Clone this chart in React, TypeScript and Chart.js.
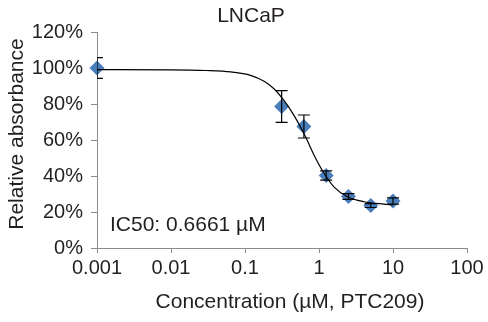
import React, { useEffect, useRef } from "react";
import { Chart, registerables } from "chart.js";

Chart.register(...registerables);

// Measured data (concentration in µM, relative absorbance in %)
const concentrations = [0.001, 0.3125, 0.625, 1.25, 2.5, 5, 10];
const meanAbsorbance = [100, 78.6, 67.5, 40.3, 28.6, 23.6, 26.1];
const errorAbsorbance = [5.8, 8.8, 6.4, 2.6, 1.6, 1.1, 1.7];

// Fitted dose-response curve
const curveConc = [0.001, 0.01, 0.03, 0.064, 0.119, 0.181, 0.246, 0.336, 0.459, 0.627, 0.855, 1.17, 1.59, 2.42, 4.06, 7.55, 10];
const curveAbs = [99.1, 99.0, 98.6, 97.8, 95.9, 92.6, 88.5, 82, 73.7, 63.6, 51.7, 41.5, 34, 28.5, 25.7, 24.4, 24.0];

const xTickValues = [0.001, 0.01, 0.1, 1, 10, 100];
const xTickLabels = ["0.001", "0.01", "0.1", "1", "10", "100"];

const chartTitle = "LNCaP";
const xAxisTitle = "Concentration (µM, PTC209)";
const yAxisTitle = "Relative absorbance";
const ic50Label = "IC50: 0.6661 µM";

const FONT = "'Liberation Sans', Arial, sans-serif";
const TEXT = "#231f20";
const AXIS = "#8c8c8c";

export default function App() {
  const ref = useRef<HTMLCanvasElement | null>(null);

  useEffect(() => {
    if (!ref.current) return;

    const errorBars = {
      id: "errorBars",
      afterDatasetsDraw(chart: any) {
        const { ctx, chartArea, scales } = chart;
        const xs = scales.x;
        const ys = scales.y;
        ctx.save();
        ctx.beginPath();
        ctx.rect(chartArea.left, 0, chart.width - chartArea.left, chart.height);
        ctx.clip();
        ctx.strokeStyle = "#000";
        ctx.lineWidth = 1.2;
        concentrations.forEach((c, i) => {
          const px = xs.getPixelForValue(c);
          const top = ys.getPixelForValue(meanAbsorbance[i] + errorAbsorbance[i]);
          const bot = ys.getPixelForValue(meanAbsorbance[i] - errorAbsorbance[i]);
          const cap = 6;
          ctx.beginPath();
          ctx.moveTo(px, top);
          ctx.lineTo(px, bot);
          ctx.moveTo(px - cap, top);
          ctx.lineTo(px + cap, top);
          ctx.moveTo(px - cap, bot);
          ctx.lineTo(px + cap, bot);
          ctx.stroke();
        });
        ctx.restore();
      },
    };

    const texts = {
      id: "texts",
      afterDraw(chart: any) {
        const { ctx, chartArea, scales } = chart;
        ctx.save();
        ctx.fillStyle = TEXT;
        ctx.font = `21px ${FONT}`;
        ctx.textAlign = "center";
        ctx.textBaseline = "middle";
        ctx.fillText(chartTitle, chart.width / 2 + 7, 16);
        ctx.fillText(xAxisTitle, (chartArea.left + chartArea.right) / 2 + 8, 302);
        ctx.save();
        ctx.translate(17, (chartArea.top + chartArea.bottom) / 2 - 6);
        ctx.rotate(-Math.PI / 2);
        ctx.fillText(yAxisTitle, 0, 0);
        ctx.restore();
        ctx.textAlign = "left";
        ctx.fillText(ic50Label, chartArea.left + 13, scales.y.getPixelForValue(12.5));
        ctx.restore();
      },
    };

    const chart = new Chart(ref.current, {
      type: "scatter",
      data: {
        datasets: [
          {
            label: "fit",
            data: curveConc.map((c, i) => ({ x: c, y: curveAbs[i] })),
            showLine: true,
            borderColor: "#000",
            borderWidth: 1.2,
            pointRadius: 0,
            cubicInterpolationMode: "monotone",
            fill: false,
            order: 0,
          },
          {
            label: "data",
            data: concentrations.map((c, i) => ({ x: c, y: meanAbsorbance[i] })),
            showLine: false,
            pointStyle: "rectRot",
            pointRadius: 7.5,
            backgroundColor: "#4a7ebb",
            borderColor: "#4a7ebb",
            borderWidth: 0,
            order: 1,
            clip: false as any,
          },
        ],
      },
      options: {
        animation: false,
        responsive: false,
        maintainAspectRatio: false,
        events: [],
        layout: { padding: { top: 32, right: 21, left: 0, bottom: 0 } },
        plugins: {
          legend: { display: false },
          title: { display: false },
          tooltip: { enabled: false },
        },
        scales: {
          x: {
            type: "logarithmic",
            min: 0.001,
            max: 100,
            afterBuildTicks(scale: any) {
              scale.ticks = xTickValues.map((v) => ({ value: v }));
            },
            afterFit(scale: any) {
              scale.height = 74;
            },
            ticks: {
              autoSkip: false,
              maxRotation: 0,
              minRotation: 0,
              padding: 3,
              color: TEXT,
              font: { family: FONT, size: 20 },
              callback(value: any) {
                const idx = xTickValues.indexOf(Number(value));
                return idx >= 0 ? xTickLabels[idx] : "";
              },
            },
            grid: {
              drawOnChartArea: false,
              drawTicks: true,
              tickLength: 5,
              color: AXIS,
            },
            border: { display: true, color: AXIS, width: 1 },
            title: { display: false },
          },
          y: {
            type: "linear",
            min: 0,
            max: 120,
            afterFit(scale: any) {
              scale.width = 97;
            },
            ticks: {
              stepSize: 20,
              padding: 8,
              color: TEXT,
              font: { family: FONT, size: 20 },
              callback(value: any) {
                return `${value}%`;
              },
            },
            grid: {
              drawOnChartArea: false,
              drawTicks: true,
              tickLength: 6,
              color: AXIS,
            },
            border: { display: true, color: AXIS, width: 1 },
            title: { display: false },
          },
        },
      },
      plugins: [errorBars, texts],
    } as any);

    return () => chart.destroy();
  }, []);

  return (
    <div style={{ position: "absolute", left: 0, top: 0, width: 488, height: 322, background: "#fff" }}>
      <canvas ref={ref} width={488} height={322} style={{ width: 488, height: 322, display: "block" }} />
    </div>
  );
}
